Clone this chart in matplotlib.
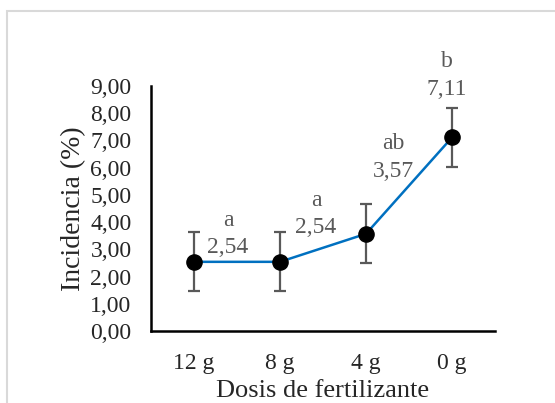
import matplotlib.pyplot as plt
from matplotlib.patches import Rectangle

# ---------------- DATA ----------------
dosis = ["12 g", "8 g", "4 g", "0 g"]
incidencia = [2.54, 2.54, 3.57, 7.11]
error = [1.08, 1.08, 1.08, 1.08]
letras = ["a", "a", "ab", "b"]
etiquetas = ["2,54", "2,54", "3,57", "7,11"]
y_ticks = [0, 1, 2, 3, 4, 5, 6, 7, 8, 9]

# label offsets (points) relative to each marker, as placed in the original
label_offsets = [(24.5, 10), (26, 24.5), (19.5, 45), (-3.6, 34.6)]

plt.rcParams["font.family"] = ["Liberation Serif", "DejaVu Serif"]

fig = plt.figure(figsize=(5.55, 4.03), dpi=100)
fig.patches.append(Rectangle((7 / 555, -0.1), 1.2, 1.1 - 11 / 403,
                             transform=fig.transFigure, fill=False,
                             edgecolor="#d9d9d9", linewidth=1.5))
ax = fig.add_axes([0.272, 0.1787, 0.62, 0.608])

x = [i + 0.5 for i in range(len(dosis))]
ax.errorbar(x, incidencia, yerr=error, fmt="none", ecolor="#595959",
            elinewidth=1.6, capsize=4.5, capthick=1.6, zorder=2)
ax.plot(x, incidencia, color="#0070c0", linewidth=1.8, zorder=3)
ax.scatter(x, incidencia, s=120, color="black", zorder=4)

for xi, yi, let, lab, off in zip(x, incidencia, letras, etiquetas, label_offsets):
    ax.annotate(lab, (xi, yi), xytext=off, textcoords="offset points",
                ha="center", va="center", fontsize=17, color="#595959")
    ax.annotate(let, (xi, yi), xytext=(off[0], off[1] + 20),
                textcoords="offset points", ha="center", va="center",
                fontsize=17, color="#595959")

ax.set_xlim(0, 4)
ax.set_ylim(0, 9)
ax.set_xticks(x)
ax.set_xticklabels(dosis)
ax.set_yticks(y_ticks)
ax.set_yticklabels([f"{v:.2f}".replace(".", ",") for v in y_ticks])
ax.tick_params(length=0, labelsize=17, labelcolor="#262626", pad=14)
ax.tick_params(axis="x", pad=16)

for s in ["top", "right"]:
    ax.spines[s].set_visible(False)
for s in ["left", "bottom"]:
    ax.spines[s].set_linewidth(1.8)
    ax.spines[s].set_color("black")

ax.set_xlabel("Dosis de fertilizante", fontsize=19, color="#262626", labelpad=4)
ax.set_ylabel("Incidencia (%)", fontsize=20, color="#262626", labelpad=3)

fig.savefig("out.png", dpi=100)
